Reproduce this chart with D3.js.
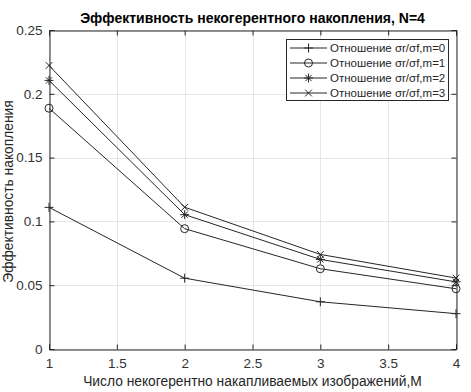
<!DOCTYPE html>
<html>
<head>
<meta charset="utf-8">
<script src="https://cdn.jsdelivr.net/npm/d3@7"></script>
<style>
body { margin: 0; background: #fff; }
svg { font-family: "Liberation Sans", Arial, sans-serif; }
</style>
</head>
<body>
<svg width="471" height="392"></svg>
<script>
// data
var xs = [1, 2, 3, 4];
var m0 = [0.111, 0.0555, 0.037, 0.0277];
var m1 = [0.1887, 0.0943, 0.0629, 0.0472];
var m2 = [0.2105, 0.1053, 0.0702, 0.0526];
var m3 = [0.2222, 0.1111, 0.0741, 0.0556];
var seriesNames = ["Отношение σr/σf,m=0", "Отношение σr/σf,m=1", "Отношение σr/σf,m=2", "Отношение σr/σf,m=3"];
var markers = ["plus", "circle", "star", "cross"];
var xTicks = [1, 1.5, 2, 2.5, 3, 3.5, 4];
var yTicks = [0, 0.05, 0.1, 0.15, 0.2, 0.25];

var series = [m0, m1, m2, m3];

var svg = d3.select("svg"),
  pLeft = 49, pRight = 456, pTop = 30, pBottom = 349;

var x = d3.scaleLinear().domain([1, 4]).range([pLeft, pRight]);
var y = d3.scaleLinear().domain([0, 0.25]).range([pBottom, pTop]);

var lineCol = "#262626", textCol = "#262626";

// grid
var grid = svg.append("g").attr("stroke", "#e6e6e6").attr("stroke-width", 1);
grid.selectAll(".gx").data(xTicks).enter().append("line")
  .attr("x1", d => Math.round(x(d)) + 0.5).attr("x2", d => Math.round(x(d)) + 0.5)
  .attr("y1", pTop).attr("y2", pBottom);
grid.selectAll(".gy").data(yTicks).enter().append("line")
  .attr("y1", d => Math.round(y(d)) + 0.5).attr("y2", d => Math.round(y(d)) + 0.5)
  .attr("x1", pLeft).attr("x2", pRight);

// axes with inward ticks, box on
var fmt = d => String(d);
var xb = svg.append("g").attr("transform", "translate(0," + (pBottom + 0.5) + ")")
  .call(d3.axisBottom(x).tickValues(xTicks).tickSize(-5).tickPadding(9).tickFormat(fmt));
var xt = svg.append("g").attr("transform", "translate(0," + (pTop + 0.5) + ")")
  .call(d3.axisTop(x).tickValues(xTicks).tickSize(-5).tickFormat(""));
var yl = svg.append("g").attr("transform", "translate(" + (pLeft + 0.5) + ",0)")
  .call(d3.axisLeft(y).tickValues(yTicks).tickSize(-5).tickPadding(7).tickFormat(fmt));
var yr = svg.append("g").attr("transform", "translate(" + (pRight + 0.5) + ",0)")
  .call(d3.axisRight(y).tickValues(yTicks).tickSize(-5).tickFormat(""));

[xb, xt, yl, yr].forEach(function(g) {
  g.selectAll("path").attr("stroke", lineCol);
  g.selectAll("line").attr("stroke", lineCol);
  g.selectAll("text").attr("fill", "#333").style("font-size", "13.5px")
    .style("font-family", "'Liberation Sans', Arial, sans-serif");
});

// lines
var line = d3.line().x((d, i) => x(xs[i])).y(d => y(d));
svg.append("g").selectAll("path").data(series).enter().append("path")
  .attr("d", line).attr("fill", "none").attr("stroke", lineCol).attr("stroke-width", 1);

function drawMarker(g, type, cx, cy) {
  var r = 4.5;
  if (type == "plus") {
    g.append("path").attr("d", "M" + (cx - r) + "," + cy + "H" + (cx + r) + "M" + cx + "," + (cy - r) + "V" + (cy + r));
  } else if (type == "circle") {
    g.append("circle").attr("cx", cx).attr("cy", cy).attr("r", 4).attr("fill", "none");
  } else if (type == "cross") {
    var c = r * 0.75;
    g.append("path").attr("d", "M" + (cx - c) + "," + (cy - c) + "L" + (cx + c) + "," + (cy + c) + "M" + (cx - c) + "," + (cy + c) + "L" + (cx + c) + "," + (cy - c));
  } else {
    var c = r * 0.7;
    g.append("path").attr("d", "M" + (cx - r) + "," + cy + "H" + (cx + r) + "M" + cx + "," + (cy - r) + "V" + (cy + r)
      + "M" + (cx - c) + "," + (cy - c) + "L" + (cx + c) + "," + (cy + c) + "M" + (cx - c) + "," + (cy + c) + "L" + (cx + c) + "," + (cy - c));
  }
}

var mk = svg.append("g").attr("stroke", lineCol).attr("stroke-width", 1).attr("fill", "none");
series.forEach(function(s, k) {
  s.forEach(function(v, i) { drawMarker(mk, markers[k], x(xs[i]), y(v)); });
});

// title and labels
svg.append("text").attr("x", (pLeft + pRight) / 2).attr("y", 23).attr("text-anchor", "middle")
  .style("font-size", "14px").style("font-weight", "bold").attr("fill", "#000")
  .text("Эффективность некогерентного накопления, N=4");
svg.append("text").attr("x", (pLeft + pRight) / 2).attr("y", 386).attr("text-anchor", "middle")
  .style("font-size", "13.8px").attr("fill", textCol)
  .text("Число некогерентно накапливаемых изображений,М");
svg.append("text").attr("transform", "translate(13," + ((pTop + pBottom) / 2 + 2) + ") rotate(-90)")
  .attr("text-anchor", "middle").style("font-size", "13.8px").attr("fill", textCol)
  .text("Эффективность накопления");

// legend
var lg = svg.append("g");
lg.append("rect").attr("x", 286.5).attr("y", 39.5).attr("width", 162).attr("height", 61)
  .attr("fill", "#fff").attr("stroke", lineCol).attr("stroke-width", 1);
seriesNames.forEach(function(name, k) {
  var yy = 48 + k * 15;
  var row = lg.append("g").attr("stroke", lineCol).attr("fill", "none");
  row.append("line").attr("x1", 290).attr("x2", 327).attr("y1", yy).attr("y2", yy);
  drawMarker(row, markers[k], 308.5, yy);
  lg.append("text").attr("x", 330).attr("y", yy + 4).style("font-size", "11.5px")
    .attr("fill", textCol).text(name);
});
</script>
</body>
</html>
